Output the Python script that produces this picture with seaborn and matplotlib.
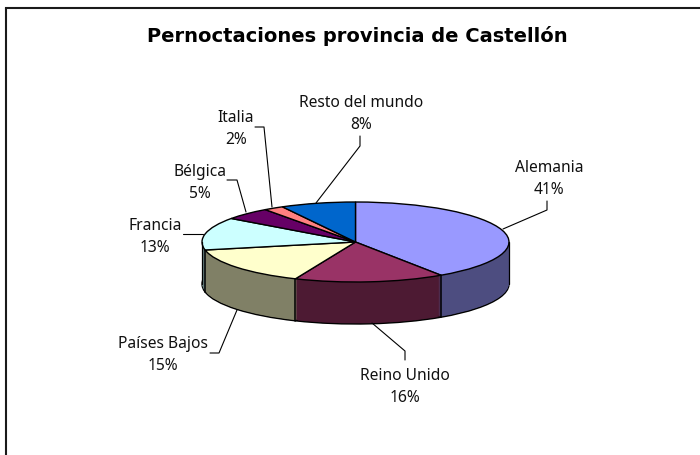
import matplotlib
matplotlib.use("Agg")
import matplotlib.pyplot as plt
import numpy as np
import seaborn as sns

categories = ["Alemania", "Reino Unido", "Países Bajos", "Francia", "Bélgica", "Italia", "Resto del mundo"]
shares = [40.6, 15.8, 15.4, 13.2, 5.0, 2.1, 7.9]
title = "Pernoctaciones provincia de Castellón"

sns.set_theme(style="white")
plt.rcParams["font.family"] = ["Noto Sans", "DejaVu Sans"]

top_colors = sns.color_palette(["#9999FF", "#993366", "#FFFFCC", "#CCFFFF", "#660066", "#FF8080", "#0066CC"])
side_colors = [tuple(c * 0.5 for c in col) for col in top_colors]

W, H = 700, 456
CX, CY = 355.5, 243
RX, RY = 153.5, 40
DEPTH = 42
PAD = 6

# label centre and leader line, in pixels
label_pos = {
    "Alemania": (549, 168),
    "Reino Unido": (405, 376),
    "Países Bajos": (163, 344),
    "Francia": (155, 226),
    "Bélgica": (200, 172),
    "Italia": (236, 118),
    "Resto del mundo": (361, 103),
}
leaders = {
    "Alemania": [(503, 230), (547, 211), (547, 202)],
    "Reino Unido": [(372, 324), (405, 352), (405, 361)],
    "Países Bajos": [(237, 311), (219, 354), (210, 354)],
    "Francia": [(203, 235), (183, 235)],
    "Bélgica": [(246, 213), (237, 181), (227, 181)],
    "Italia": [(272, 208), (264, 128), (255, 128)],
    "Resto del mundo": [(316, 204), (360, 147), (360, 137)],
}

fig = plt.figure(figsize=(W / 100, H / 100), dpi=100, facecolor="white")

# overlay in pixel coordinates for frame, text and leaders
page = fig.add_axes([0, 0, 1, 1], zorder=2)
page.set_xlim(0, W)
page.set_ylim(H, 0)
page.axis("off")
page.patch.set_alpha(0)

# pie axes: radius 1 is RX wide and RY high, squashed by hand
left, right = CX - RX - PAD, CX + RX + PAD
top, bottom = CY - RY - PAD, CY + RY + DEPTH + PAD
ax = fig.add_axes([left / W, 1 - bottom / H, (right - left) / W, (bottom - top) / H], zorder=1)
depth = DEPTH / RY


def draw_pie(offset, colors, edge, lw):
    ax.pie(shares, colors=colors, startangle=90, counterclock=False, center=(0, -offset),
           radius=1, wedgeprops={"edgecolor": edge, "linewidth": lw}, normalize=True)


draw_pie(depth, side_colors, "black", 1.0)
for d in np.linspace(depth, 0, DEPTH + 1)[1:-1]:
    ax.pie(shares, colors=side_colors, startangle=90, counterclock=False, center=(0, -d),
           radius=1, wedgeprops={"linewidth": 0})

# vertical edges on the front of the pie
ends = np.radians(np.cumsum(shares) / np.sum(shares) * 360)
for a in ends:
    if np.cos(a) < 0:
        ax.plot([np.sin(a)] * 2, [np.cos(a), np.cos(a) - depth], color="black", lw=1.1)
for s in (-1, 1):
    ax.plot([s, s], [0, -depth], color="black", lw=0.9)

draw_pie(0, top_colors, "black", 1.0)

ax.set_aspect("auto")
ax.set_xlim((left - CX) / RX, (right - CX) / RX)
ax.set_ylim((CY - bottom) / RY, (CY - top) / RY)
ax.axis("off")

# chart frame: only top and left are visible in the picture
page.plot([6, 6], [H, 9], color="#1a1a1a", lw=1.5, solid_capstyle="butt")
page.plot([6, W], [9, 9], color="#1a1a1a", lw=1.5, solid_capstyle="projecting")

# Noto Sans has no bold face here, so the title uses DejaVu
page.text(357, 36, title, ha="center", va="center", fontsize=14, fontweight="bold",
          family="DejaVu Sans", color="black")

for name, share in zip(categories, shares):
    x, y = label_pos[name]
    page.text(x, y, name, ha="center", va="center", fontsize=11.2, color="#111111")
    page.text(x, y + 22, f"{share:.0f}%", ha="center", va="center", fontsize=11.2, color="#111111")
    xs, ys = zip(*leaders[name])
    page.plot(xs, ys, color="black", lw=0.8)

fig.savefig("out.png", dpi=100)
